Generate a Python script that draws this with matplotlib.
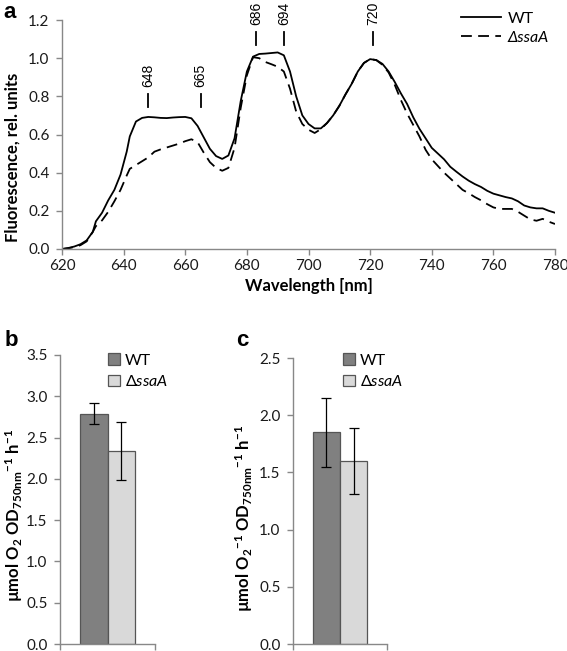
import matplotlib
matplotlib.use("Agg")
import matplotlib.pyplot as plt
from matplotlib.ticker import FormatStrFormatter

plt.rcParams['font.family'] = ['Lato', 'DejaVu Sans']
plt.rcParams['mathtext.fontset'] = 'custom'
plt.rcParams['mathtext.rm'] = 'Lato'
plt.rcParams['mathtext.bf'] = 'Lato:bold'
plt.rcParams['mathtext.it'] = 'Lato:italic'

# --- dados do espectro de fluorescência (painel a) ---
comprimento = [620, 622, 624, 626, 628, 630, 631, 633, 635, 637, 639, 641, 642, 644, 646,
               648, 650, 652, 654, 656, 658, 660, 662, 664, 666, 668, 670, 672, 674, 676,
               678, 680, 682, 684, 686, 688, 690, 692, 694, 696, 698, 700, 702, 704, 706,
               708, 710, 712, 714, 716, 718, 720, 722, 724, 726, 728, 730, 732, 734, 736,
               738, 740, 742, 744, 746, 748, 750, 752, 754, 756, 758, 760, 762, 764, 766,
               768, 770, 772, 774, 776, 778, 780]
fluo_wt = [0.0, 0.005, 0.013, 0.025, 0.045, 0.09, 0.145, 0.19, 0.255, 0.31, 0.39, 0.51, 0.59,
           0.668, 0.687, 0.692, 0.69, 0.687, 0.686, 0.689, 0.691, 0.692, 0.685, 0.645, 0.585,
           0.525, 0.487, 0.472, 0.49, 0.58, 0.775, 0.93, 1.008, 1.022, 1.024, 1.027, 1.03,
           1.015, 0.93, 0.8, 0.7, 0.655, 0.632, 0.632, 0.66, 0.7, 0.75, 0.81, 0.865, 0.93,
           0.975, 0.995, 0.99, 0.97, 0.93, 0.875, 0.815, 0.76, 0.69, 0.63, 0.58, 0.53, 0.5,
           0.47, 0.431, 0.405, 0.38, 0.358, 0.34, 0.325, 0.305, 0.29, 0.281, 0.272, 0.265,
           0.25, 0.228, 0.218, 0.213, 0.213, 0.2, 0.19]
fluo_ssaA = [0.0, 0.004, 0.01, 0.02, 0.04, 0.09, 0.12, 0.15, 0.195, 0.25, 0.31, 0.385, 0.42,
             0.44, 0.46, 0.48, 0.51, 0.522, 0.532, 0.542, 0.552, 0.565, 0.575, 0.56, 0.505,
             0.455, 0.425, 0.41, 0.425, 0.53, 0.74, 0.91, 1.005, 1.0, 0.98, 0.968, 0.955,
             0.93, 0.84, 0.72, 0.655, 0.625, 0.608, 0.628, 0.66, 0.7, 0.75, 0.81, 0.865, 0.93,
             0.975, 0.995, 0.99, 0.965, 0.925, 0.86, 0.78, 0.71, 0.65, 0.59, 0.52, 0.47, 0.435,
             0.4, 0.37, 0.34, 0.31, 0.292, 0.272, 0.255, 0.235, 0.218, 0.21, 0.21, 0.21, 0.195,
             0.175, 0.155, 0.148, 0.158, 0.143, 0.131]

# marcadores dos picos (rótulo, posição no eixo x, altura)
picos_rotulo = ['648', '665', '686', '694', '720']
picos_pos = [648, 665, 683, 692, 721]
picos_altura = [0.745, 0.745, 1.07, 1.07, 1.07]

# --- dados das barras (painéis b e c) ---
cepas = ['WT', r'$\it{\Delta ssaA}$']
taxa_b = [2.79, 2.34]
erro_b = [0.13, 0.35]
taxa_c = [1.85, 1.60]
erro_c = [0.30, 0.29]

cor_eixo = '#888888'
cor_texto = '#1a1a1a'
cores_barra = ['#808080', '#d9d9d9']

fig = plt.figure(figsize=(5.67, 6.51), dpi=100)


def estilo_eixo(ax):
    for lado in ['top', 'right']:
        ax.spines[lado].set_visible(False)
    for lado in ['left', 'bottom']:
        ax.spines[lado].set_color(cor_eixo)
        ax.spines[lado].set_linewidth(1.0)
    ax.tick_params(direction='out', length=4, width=1.0, color=cor_eixo,
                   labelsize=11, labelcolor=cor_texto)


# painel a
ax = fig.add_axes([62/567, 1 - 249/651, 493/567, 229/651])
ax.plot(comprimento, fluo_wt, color='black', lw=1.3, label='WT')
ax.plot(comprimento, fluo_ssaA, color='black', lw=1.3, dashes=(6, 3.5), label='ΔssaA')
ax.set_xlim(620, 780)
ax.set_ylim(0, 1.2)
ax.set_xticks(range(620, 781, 20))
ax.set_yticks([0, 0.2, 0.4, 0.6, 0.8, 1.0, 1.2])
ax.yaxis.set_major_formatter(FormatStrFormatter('%.1f'))
estilo_eixo(ax)
ax.tick_params(axis='y', pad=5)
ax.set_xlabel('Wavelength [nm]', fontsize=12, fontweight='bold', labelpad=3)
for rot, xp, h in zip(picos_rotulo, picos_pos, picos_altura):
    ax.plot([xp, xp], [h, h + 0.065], color='black', lw=1.3, clip_on=False)
    ax.text(xp, h + 0.105, rot, rotation=90, ha='center', va='bottom', fontsize=10,
            family='Liberation Sans', clip_on=False)
leg = ax.legend(loc='upper left', bbox_to_anchor=(455/567, 1 - 5/651),
                bbox_transform=fig.transFigure, frameon=False, fontsize=11.5,
                handlelength=2.5, handletextpad=0.4, labelspacing=0.3, borderaxespad=0)
leg.get_texts()[1].set_style('italic')
fig.text(13/567, 1 - 157/651, 'Fluorescence, rel. units', rotation=90, ha='center',
         va='center', fontsize=12, fontweight='bold')
fig.text(3/567, 1 - 18/651, 'a', fontsize=16, fontweight='bold', family='Liberation Sans')


def painel_barras(pos, valores, erros, ymax, rotulo_y, letra, pos_letra, pos_leg):
    axb = fig.add_axes(pos)
    xs = [-0.145, 0.145]
    for i in range(2):
        axb.bar(xs[i], valores[i], width=0.29, color=cores_barra[i], edgecolor='#555555',
                linewidth=0.9, label=cepas[i])
        axb.errorbar(xs[i], valores[i], yerr=erros[i], color='black', lw=0.9,
                     capsize=3.5, capthick=0.9)
    axb.set_xlim(-0.5, 0.5)
    axb.set_ylim(0, ymax)
    axb.set_xticks([-0.5, 0.5])
    axb.set_xticklabels(['', ''])
    axb.set_yticks([v * 0.5 for v in range(int(ymax / 0.5) + 1)])
    axb.yaxis.set_major_formatter(FormatStrFormatter('%.1f'))
    estilo_eixo(axb)
    axb.tick_params(axis='y', pad=5)
    lg = axb.legend(loc='upper left', bbox_to_anchor=pos_leg, bbox_transform=fig.transFigure,
                    frameon=False, fontsize=11.5, handlelength=0.75, handleheight=0.75,
                    handletextpad=0.3, labelspacing=0.4, borderaxespad=0)
    for h in lg.legend_handles:
        h.set_edgecolor('#555555')
    fig.text(rotulo_y[0], rotulo_y[1], rotulo_y[2], rotation=90, ha='center',
             va='center', fontsize=12, fontweight='bold')
    fig.text(pos_letra[0], pos_letra[1], letra, fontsize=16, fontweight='bold',
             family='Liberation Sans')
    return axb


painel_barras([60/567, 1 - 644/651, 95/567, 289/651], taxa_b, erro_b, 3.5,
              (14/567, 1 - 515/651,
               r'µmol O$_\mathbf{2}$ OD$_\mathbf{750nm}$$^\mathbf{-1}$ h$^\mathbf{-1}$'),
              'b', (5/567, 1 - 346/651), (102/567, 1 - 347/651))
painel_barras([293/567, 1 - 644/651, 94/567, 286/651], taxa_c, erro_c, 2.5,
              (244/567, 1 - 518/651,
               r'µmol O$_\mathbf{2}$$^\mathbf{-1}$ OD$_\mathbf{750nm}$$^\mathbf{-1}$ h$^\mathbf{-1}$'),
              'c', (236/567, 1 - 346/651), (337/567, 1 - 347/651))

fig.savefig('out.png', dpi=100)
